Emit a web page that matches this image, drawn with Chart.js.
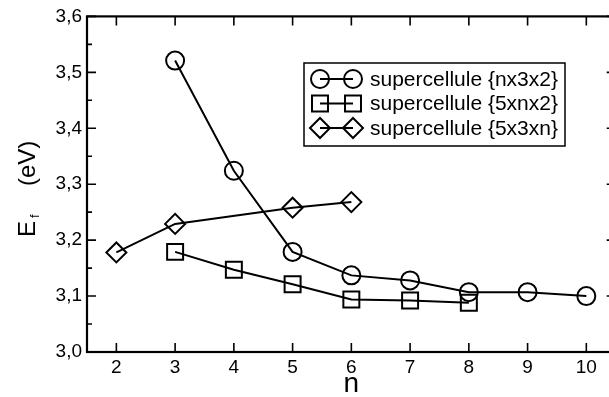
<!DOCTYPE html>
<html>
<head>
<meta charset="utf-8">
<script src="https://cdn.jsdelivr.net/npm/chart.js@4.4.1/dist/chart.umd.min.js"></script>
<style>
  html, body { margin: 0; padding: 0; background: #fff; overflow: hidden; width: 609px; height: 397px; }
  #wrap { width: 640px; height: 397px; }
</style>
</head>
<body>
<div id="wrap"><canvas id="myChart" width="629" height="397"></canvas></div>
<script>
// supercellule {nx3x2}
var n_nx3x2 = [3, 4, 5, 6, 7, 8, 9, 10]
var ef_nx3x2 = [3.521, 3.324, 3.179, 3.137, 3.128, 3.107, 3.107, 3.100]

// supercellule {5xnx2}
var n_5xnx2 = [3, 4, 5, 6, 7, 8]
var ef_5xnx2 = [3.179, 3.147, 3.121, 3.094, 3.092, 3.088]

// supercellule {5x3xn}
var n_5x3xn = [2, 3, 5, 6]
var ef_5x3xn = [3.178, 3.229, 3.258, 3.268]

var x_ticks = [2, 3, 4, 5, 6, 7, 8, 9, 10]
var y_ticks = [3.0, 3.1, 3.2, 3.3, 3.4, 3.5, 3.6]
var y_minor = [3.05, 3.15, 3.25, 3.35, 3.45, 3.55]

var FONT = "'Liberation Sans', Arial, Helvetica, sans-serif"

function pts(xs, ys) {
  return xs.map(function (v, i) { return { x: v, y: ys[i] } })
}

function marker(ctx, style, r, x, y) {
  ctx.beginPath()
  if (style === 'circle') {
    ctx.arc(x, y, r, 0, Math.PI * 2)
  } else if (style === 'rect') {
    var s = r * Math.SQRT1_2
    ctx.rect(x - s, y - s, 2 * s, 2 * s)
  } else {
    ctx.moveTo(x - r, y); ctx.lineTo(x, y - r); ctx.lineTo(x + r, y); ctx.lineTo(x, y + r); ctx.closePath()
  }
  ctx.stroke()
}

// frame with inward ticks, y title with subscript, boxed legend
var decor = {
  id: 'decor',
  afterDraw: function (chart) {
    var ctx = chart.ctx, a = chart.chartArea
    var xs = chart.scales.x, ys = chart.scales.y
    ctx.save()
    ctx.strokeStyle = '#000'
    ctx.lineWidth = 1.6
    ctx.beginPath()
    x_ticks.forEach(function (v) {
      var px = xs.getPixelForValue(v)
      ctx.moveTo(px, a.bottom); ctx.lineTo(px, a.bottom - 9)
      ctx.moveTo(px, a.top); ctx.lineTo(px, a.top + 9)
    })
    y_ticks.forEach(function (v) {
      var py = ys.getPixelForValue(v)
      ctx.moveTo(a.left, py); ctx.lineTo(a.left + 9, py)
      ctx.moveTo(a.right, py); ctx.lineTo(a.right - 9, py)
    })
    y_minor.forEach(function (v) {
      var py = ys.getPixelForValue(v)
      ctx.moveTo(a.left, py); ctx.lineTo(a.left + 5, py)
      ctx.moveTo(a.right, py); ctx.lineTo(a.right - 5, py)
    })
    ctx.stroke()
    ctx.lineWidth = 2.2
    ctx.strokeRect(a.left, a.top, a.right - a.left, a.bottom - a.top)

    // y axis title: E_f (eV)
    ctx.save()
    ctx.translate(35, 237)
    ctx.rotate(-Math.PI / 2)
    ctx.fillStyle = '#000'
    ctx.textBaseline = 'alphabetic'
    ctx.font = '24px ' + FONT
    ctx.fillText('E', 0, 0)
    ctx.font = '13px ' + FONT
    ctx.fillText('f', 19, 4)
    ctx.font = '24px ' + FONT
    ctx.fillText('(eV)', 51, 0)
    ctx.restore()

    // legend
    var bx = 304, by = 63, bw = 261, bh = 83
    ctx.fillStyle = '#fff'
    ctx.fillRect(bx, by, bw, bh)
    ctx.lineWidth = 1.5
    ctx.strokeRect(bx, by, bw, bh)
    ctx.font = '21px ' + FONT
    ctx.textBaseline = 'middle'
    ctx.fillStyle = '#000'
    chart.data.datasets.forEach(function (ds, i) {
      var ry = 79 + i * 24.5
      ctx.lineWidth = 2
      ctx.beginPath()
      ctx.moveTo(320, ry); ctx.lineTo(353, ry)
      ctx.stroke()
      marker(ctx, ds.pointStyle, ds.pointRadius, 320, ry)
      marker(ctx, ds.pointStyle, ds.pointRadius, 353, ry)
      ctx.fillText(ds.label, 370, ry + 1)
    })
    ctx.restore()
  }
}

function series(label, xs, ys, style, r) {
  return {
    label: label,
    data: pts(xs, ys),
    showLine: true,
    borderColor: '#000',
    borderWidth: 2,
    backgroundColor: 'rgba(0,0,0,0)',
    pointStyle: style,
    pointRadius: r,
    pointHoverRadius: r,
    pointBorderColor: '#000',
    pointBorderWidth: 2,
    pointBackgroundColor: 'rgba(0,0,0,0)',
    tension: 0,
    fill: false
  }
}

var myChart = document.getElementById('myChart').getContext('2d')

var chart = new Chart(myChart, {
  type: 'scatter',
  data: {
    datasets: [
      series('supercellule {nx3x2}', n_nx3x2, ef_nx3x2, 'circle', 9),
      series('supercellule {5xnx2}', n_5xnx2, ef_5xnx2, 'rect', 11.3),
      series('supercellule {5x3xn}', n_5x3xn, ef_5x3xn, 'rectRot', 10)
    ]
  },
  options: {
    responsive: false,
    animation: false,
    devicePixelRatio: 1,
    layout: { padding: { top: 15, right: 4, left: 0, bottom: 0 } },
    plugins: { legend: { display: false }, tooltip: { enabled: false } },
    scales: {
      x: {
        type: 'linear',
        min: 1.5,
        max: 10.5,
        afterBuildTicks: function (s) { s.ticks = x_ticks.map(function (v) { return { value: v } }) },
        afterFit: function (s) { s.height = 45 },
        ticks: { color: '#000', padding: 4, font: { family: FONT, size: 19 } },
        grid: { display: false, drawTicks: false },
        border: { display: false },
        title: { display: true, text: 'n', color: '#000', font: { family: FONT, size: 28 }, padding: { top: 0, bottom: -4 } }
      },
      y: {
        min: 3.0,
        max: 3.6,
        afterBuildTicks: function (s) { s.ticks = y_ticks.map(function (v) { return { value: v } }) },
        afterFit: function (s) { s.width = 87 },
        ticks: {
          color: '#000', padding: 5, font: { family: FONT, size: 19 },
          callback: function (v) { return v.toFixed(1).replace('.', ',') }
        },
        grid: { display: false, drawTicks: false },
        border: { display: false }
      }
    }
  },
  plugins: [decor]
})
</script>
</body>
</html>
